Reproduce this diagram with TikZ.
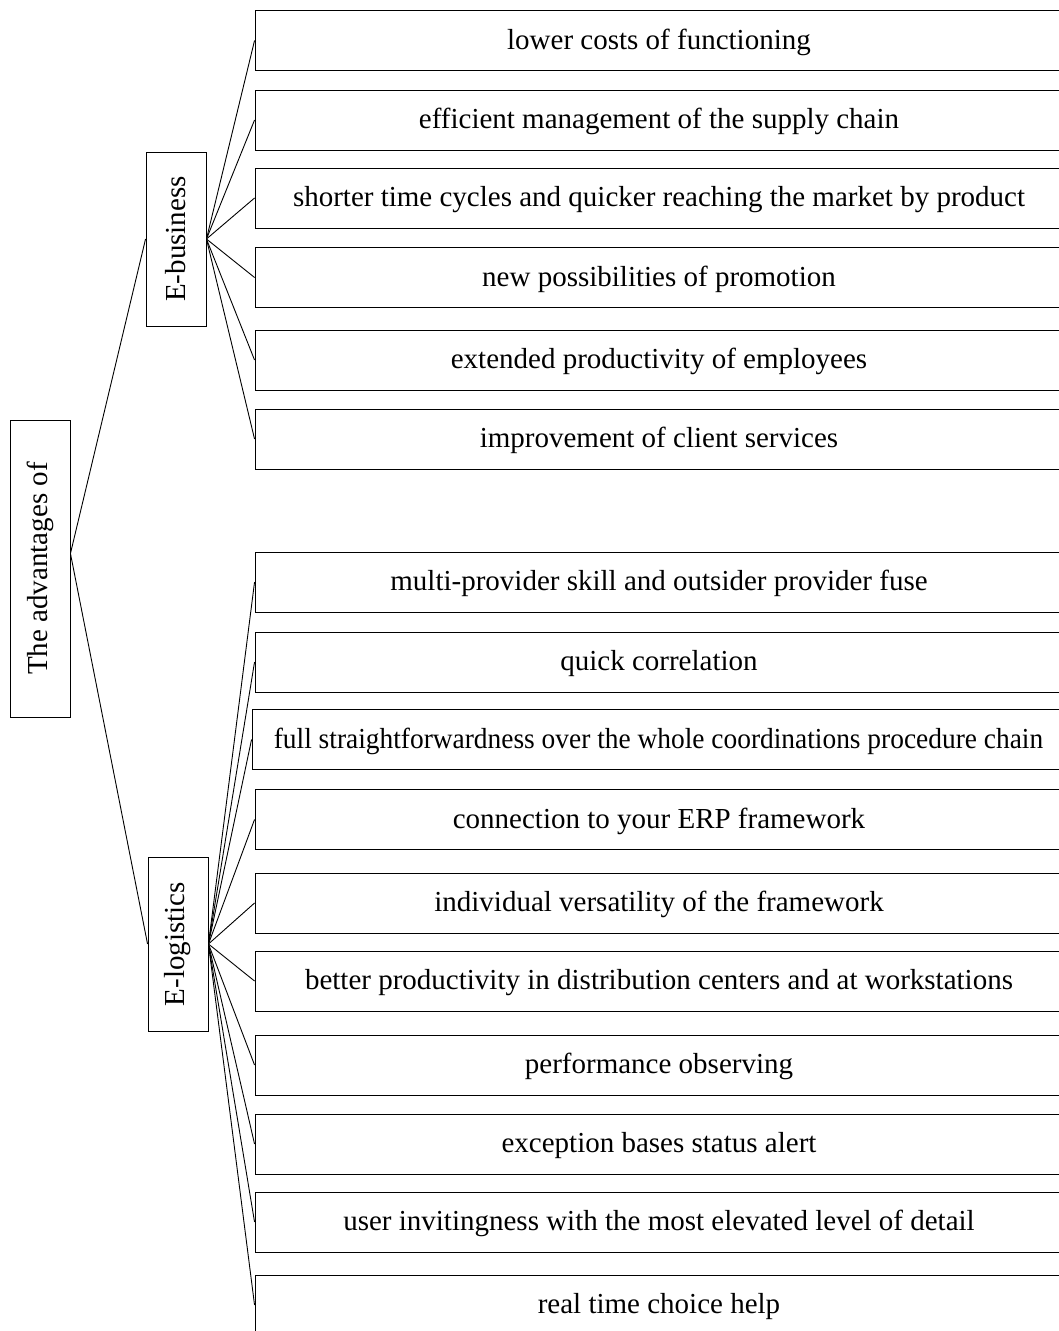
\documentclass[tikz,border=0pt]{standalone}
\usepackage{fontspec}
\setmainfont{Liberation Serif}
\begin{document}
\begin{tikzpicture}[x=1pt,y=-1pt,line width=0.9pt,
  txt/.style={font=\fontsize{29}{34}\selectfont},
  item/.style={draw, txt, minimum width=808pt, minimum height=60pt, inner sep=0pt, text height=20pt, text depth=3pt},
  vbox/.style={draw, txt, rotate=90, inner sep=0pt, minimum height=60pt}]
\useasboundingbox (0,0) rectangle (1059,1331);
\clip (0,0) rectangle (1059,1331);
% left column
\node[vbox, minimum width=297pt] (root) at (40,568.5) {The advantages of};
\node[vbox, minimum width=174pt] (eb) at (176,239) {E-business};
\node[vbox, minimum width=174pt] (el) at (178,944) {E-logistics};
\coordinate (rj) at ([yshift=15pt]root.south);
% E-business items
\node[item] (b1) at (659,40.5) {lower costs of functioning};
\node[item] (b2) at (659,120) {efficient management of the supply chain};
\node[item] (b3) at (659,198) {shorter time cycles and quicker reaching the market by product};
\node[item] (b4) at (659,277.5) {new possibilities of promotion};
\node[item] (b5) at (659,360) {extended productivity of employees};
\node[item] (b6) at (659,439) {improvement of client services};
% E-logistics items
\node[item] (l1) at (659,582) {multi-provider skill and outsider provider fuse};
\node[item] (l2) at (659,662) {quick correlation};
\node[item, minimum width=813pt] (l3) at (658.5,739.5) {\scalebox{0.945}[1]{full straightforwardness over the whole coordinations procedure chain}};
\node[item] (l4) at (659,819.5) {connection to your ERP framework};
\node[item] (l5) at (659,903) {individual versatility of the framework};
\node[item] (l6) at (659,981) {better productivity in distribution centers and at workstations};
\node[item] (l7) at (659,1065) {performance observing};
\node[item] (l8) at (659,1144) {exception bases status alert};
\node[item] (l9) at (659,1222) {user invitingness with the most elevated level of detail};
\node[item] (l10) at (659,1305) {real time choice help};
% connectors
\draw (rj) -- (eb.north);
\draw (rj) -- (el.north);
\foreach \i in {1,...,6} \draw (eb.south) -- (b\i.west);
\foreach \i in {1,...,10} \draw (el.south) -- (l\i.west);
\end{tikzpicture}
\end{document}
